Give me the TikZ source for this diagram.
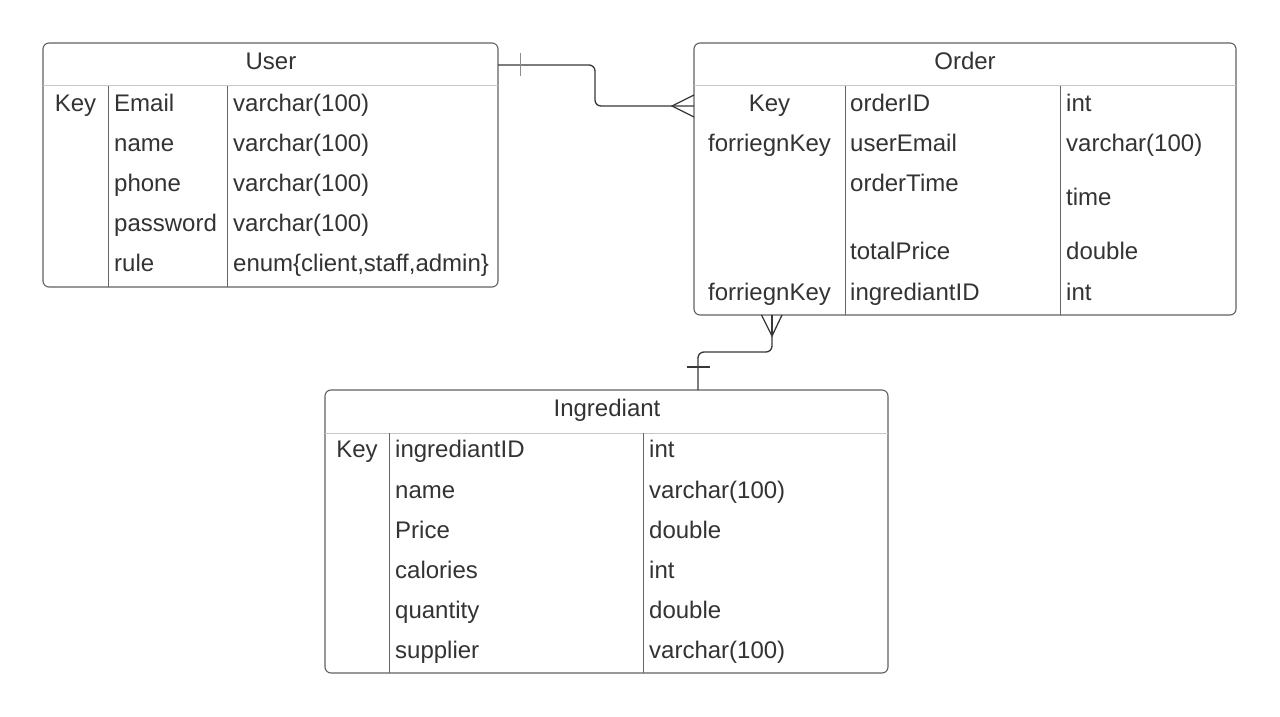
\documentclass[tikz,border=0pt]{standalone}
\usepackage{fontspec}
\setmainfont{Liberation Sans}
\begin{document}
\begin{tikzpicture}[x=1pt,y=-1pt,
  tbl/.style={draw=black!62, line width=1.1pt, rounded corners=6pt, anchor=north west, inner sep=0pt, outer sep=0pt},
  hdr/.style={draw=black!22, line width=1pt},
  col/.style={draw=black!60, line width=1pt},
  conn/.style={draw=black!78, line width=1.3pt},
  txt/.style={text=black!80, font=\fontsize{24}{28}\selectfont, inner sep=0pt, text height=17.2pt, text depth=0pt},
  lt/.style={txt, anchor=west},
  ct/.style={txt, anchor=center}]
\useasboundingbox (0,0) rectangle (1280,717);
\fill[white] (0,0) rectangle (1280,717);

% ---------- User ----------
\node[tbl, minimum width=455pt, minimum height=244pt] (user) at (43,43) {};
\draw[hdr] (43,86) -- (498,86);
\draw[col] (108,86) -- (108,287);
\draw[col] (227,86) -- (227,287);
\node[ct] (uT) at (271,61) {User};
\node[ct] (uk1) at (75.5,103) {Key};
\node[lt] (u1) at (114,103) {Email};
\node[lt] (u2) at (114,143) {name};
\node[lt] (u3) at (114,183) {phone};
\node[lt] (u4) at (114,223) {password};
\node[lt] (u5) at (114,263) {rule};
\node[lt] (ut1) at (233,103) {varchar(100)};
\node[lt] (ut2) at (233,143) {varchar(100)};
\node[lt] (ut3) at (233,183) {varchar(100)};
\node[lt] (ut4) at (233,223) {varchar(100)};
\node[lt] (ut5) at (233,263) {enum\{client,staff,admin\}};

% ---------- Order ----------
\node[tbl, minimum width=542pt, minimum height=272pt] (order) at (694,43) {};
\draw[hdr] (694,86) -- (1236,86);
\draw[col] (845,86) -- (845,315);
\draw[col] (1060,86) -- (1060,315);
\node[ct] (oT) at (965,61) {Order};
\node[ct] (ok1) at (769.5,103) {Key};
\node[ct] (ok2) at (769.5,143) {forriegnKey};
\node[ct] (ok5) at (769.5,292) {forriegnKey};
\node[lt] (o1) at (850,103) {orderID};
\node[lt] (o2) at (850,143) {userEmail};
\node[lt] (o3) at (850,183) {orderTime};
\node[lt] (o4) at (850,251) {totalPrice};
\node[lt] (o5) at (850,292) {ingrediantID};
\node[lt] (ot1) at (1066,103) {int};
\node[lt] (ot2) at (1066,143) {varchar(100)};
\node[lt] (ot3) at (1066,197) {time};
\node[lt] (ot4) at (1066,251) {double};
\node[lt] (ot5) at (1066,292) {int};

% ---------- Ingrediant ----------
\node[tbl, minimum width=563pt, minimum height=283pt] (ingr) at (325,390) {};
\draw[hdr] (325,433) -- (888,433);
\draw[col] (389,433) -- (389,673);
\draw[col] (643,433) -- (643,673);
\node[ct] (iT) at (607,408) {Ingrediant};
\node[ct] (ik1) at (357,449) {Key};
\node[lt] (i1) at (395,449) {ingrediantID};
\node[lt] (i2) at (395,490) {name};
\node[lt] (i3) at (395,530) {Price};
\node[lt] (i4) at (395,570) {calories};
\node[lt] (i5) at (395,610) {quantity};
\node[lt] (i6) at (395,650) {supplier};
\node[lt] (it1) at (649,449) {int};
\node[lt] (it2) at (649,490) {varchar(100)};
\node[lt] (it3) at (649,530) {double};
\node[lt] (it4) at (649,570) {int};
\node[lt] (it5) at (649,610) {double};
\node[lt] (it6) at (649,650) {varchar(100)};

% ---------- User -- Order (one to many) ----------
\coordinate (c1s) at (user.east |- 0,65);
\coordinate (c1e) at (order.west |- 0,106);
\coordinate (c1t) at (672,106);
\draw[conn, rounded corners=6pt] (c1s) -- (595,65) -- (595,106) -- (c1e);
\draw[conn, draw=black!45, line width=1pt] (520,53) -- (520,76);
\draw[conn] (order.west |- 0,95) -- (c1t) -- (order.west |- 0,117);

% ---------- Order -- Ingrediant (many to one) ----------
\coordinate (c2t) at (772,336);
\coordinate (c2e) at (ingr.north -| 698,0);
\draw[conn, rounded corners=6pt] (c2t) -- (772,352) -- (698,352) -- (c2e);
\draw[conn] (order.south -| 761.5,0) -- (c2t) -- (order.south -| 782,0);
\draw[conn] (c2t) -- (order.south -| 772,0);
\draw[conn] (687,367) -- (710,367);
\end{tikzpicture}
\end{document}
